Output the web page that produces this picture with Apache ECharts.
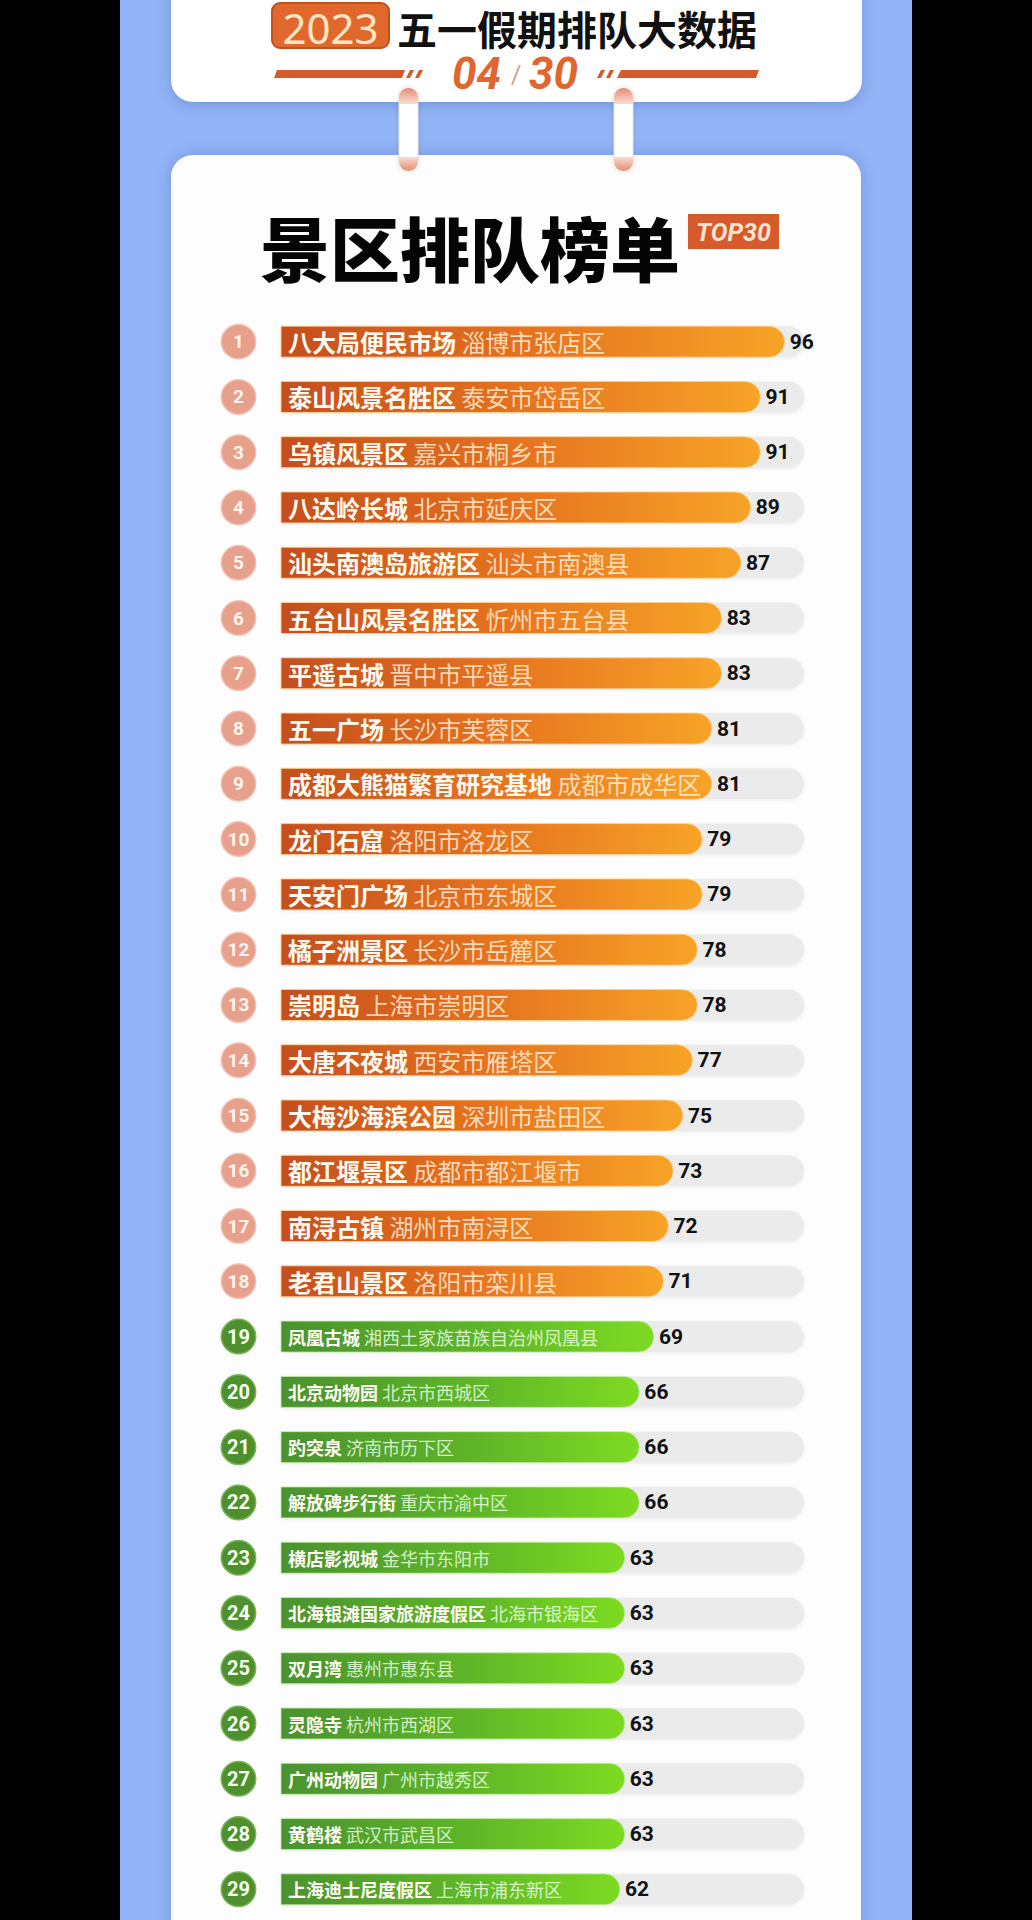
<!DOCTYPE html>
<html>
<head>
<meta charset="utf-8">
<script src="https://cdn.jsdelivr.net/npm/echarts@6/dist/echarts.min.js"></script>
<style>
html,body{margin:0;padding:0;background:#000;}
#c{width:1032px;height:1920px;}
</style>
</head>
<body>
<div id="c"></div>
<script>
const ranks = ['1','2','3','4','5','6','7','8','9','10','11','12','13','14','15','16','17','18','19','20','21','22','23','24','25','26','27','28','29'];
const names = ['八大局便民市场','泰山风景名胜区','乌镇风景区','八达岭长城','汕头南澳岛旅游区','五台山风景名胜区','平遥古城','五一广场','成都大熊猫繁育研究基地','龙门石窟','天安门广场','橘子洲景区','崇明岛','大唐不夜城','大梅沙海滨公园','都江堰景区','南浔古镇','老君山景区','凤凰古城','北京动物园','趵突泉','解放碑步行街','横店影视城','北海银滩国家旅游度假区','双月湾','灵隐寺','广州动物园','黄鹤楼','上海迪士尼度假区'];
const regions = ['淄博市张店区','泰安市岱岳区','嘉兴市桐乡市','北京市延庆区','汕头市南澳县','忻州市五台县','晋中市平遥县','长沙市芙蓉区','成都市成华区','洛阳市洛龙区','北京市东城区','长沙市岳麓区','上海市崇明区','西安市雁塔区','深圳市盐田区','成都市都江堰市','湖州市南浔区','洛阳市栾川县','湘西土家族苗族自治州凤凰县','北京市西城区','济南市历下区','重庆市渝中区','金华市东阳市','北海市银海区','惠州市惠东县','杭州市西湖区','广州市越秀区','武汉市武昌区','上海市浦东新区'];
const values = [96,91,91,89,87,83,83,81,81,79,79,78,78,77,75,73,72,71,69,66,66,66,63,63,63,63,63,63,62];

const AX_MIN = -8, AX_MAX = 100;
const CJK = '"Noto Sans CJK SC", "Noto Sans", sans-serif';

const chart = echarts.init(document.getElementById('c'), null, {renderer: 'svg'});

function lin(x, y, x2, y2, stops) {
  return {type: 'linear', x: x, y: y, x2: x2, y2: y2, colorStops: stops};
}

function renderItem(params, api) {
  const i = params.dataIndex;
  const v = api.value(0);
  const cat = api.value(1);
  const s = api.coord([AX_MIN, cat]);
  const e = api.coord([v, cat]);
  const t = api.coord([AX_MAX, cat]);
  const h = 31, r = h / 2, y = s[1] - h / 2;
  const orange = i < 18;
  const fs = orange ? 24 : 18;
  const grad = orange
    ? lin(0, 0, 1, 0, [{offset: 0, color: '#c44e1d'}, {offset: 0.5, color: '#e6731f'}, {offset: 1, color: '#f7a427'}])
    : lin(0, 0, 1, 0, [{offset: 0, color: '#4a9230'}, {offset: 0.55, color: '#5fb628'}, {offset: 1, color: '#7edb22'}]);
  return {
    type: 'group',
    children: [
      {type: 'rect', shape: {x: s[0], y: y, width: t[0] - s[0], height: h, r: [0, r, r, 0]},
        style: {fill: '#ebebeb', shadowBlur: 3, shadowColor: 'rgba(0,0,0,0.08)', shadowOffsetY: 1}},
      {type: 'rect', shape: {x: s[0], y: y, width: e[0] - s[0], height: h, r: [0, r, r, 0]},
        style: {fill: grad, stroke: orange ? 'rgba(252,212,150,0.9)' : 'rgba(200,240,170,0.8)', lineWidth: 1}},
      {type: 'text', x: s[0] + 7, y: s[1],
        style: {
          text: '{n|' + names[i] + '} {r|' + regions[i] + '}',
          fontSize: fs, fontFamily: CJK, verticalAlign: 'middle', align: 'left',
          rich: {
            n: {fontSize: fs, fontWeight: 'bold', fill: '#fffaf2', fontFamily: CJK},
            r: {fontSize: fs, fontWeight: 'normal', fill: orange ? 'rgba(255,236,212,0.85)' : 'rgba(236,255,224,0.85)', fontFamily: CJK}
          }
        }},
      {type: 'text', x: e[0] + 5, y: s[1],
        style: {text: String(values[i]), fontSize: 21, fontWeight: 'bold', fontFamily: 'Roboto, "Liberation Sans", sans-serif',
          fill: '#111', verticalAlign: 'middle', align: 'left'}}
    ]
  };
}

function ring(x) {
  return [
    {type: 'rect', z: -1, shape: {x: x, y: 88, width: 19, height: 83, r: 9.5},
      style: {fill: '#ffffff', stroke: '#e4e4e4', lineWidth: 1, shadowBlur: 4, shadowColor: 'rgba(0,0,0,0.15)'}},
    {type: 'rect', z: -1, shape: {x: x, y: 88, width: 19, height: 16, r: [9.5, 9.5, 0, 0]},
      style: {fill: lin(0, 0, 0, 1, [{offset: 0, color: '#e58c72'}, {offset: 1, color: '#f8ddd2'}])}},
    {type: 'rect', z: -1, shape: {x: x, y: 157, width: 19, height: 14, r: [0, 0, 9.5, 9.5]},
      style: {fill: lin(0, 0, 0, 1, [{offset: 0, color: '#f8ddd2'}, {offset: 1, color: '#e58c72'}])}}
  ];
}

const graphics = [
  {type: 'rect', z: -3, shape: {x: 120, y: 0, width: 792, height: 1920}, style: {fill: '#92b4f6'}},
  {type: 'rect', z: -2, shape: {x: 171, y: -40, width: 691, height: 142, r: 22},
    style: {fill: '#ffffff', shadowBlur: 14, shadowColor: 'rgba(40,70,160,0.3)', shadowOffsetY: 3}},
  {type: 'rect', z: -2, shape: {x: 171, y: 155, width: 690, height: 1820, r: 22},
    style: {fill: '#fdfdfd', shadowBlur: 14, shadowColor: 'rgba(40,70,160,0.3)'}},
  ...ring(399), ...ring(614),
  // 2023 box
  {type: 'rect', z: -1, shape: {x: 272, y: 3, width: 117, height: 45, r: 8},
    style: {fill: '#e1682c', stroke: '#c4501e', lineWidth: 2}},
  {type: 'text', z: -1, x: 330.5, y: 27,
    style: {text: '2023', fontSize: 42, lineHeight: 42, fontFamily: '"Noto Sans", sans-serif', fill: '#fde6c6', align: 'center', verticalAlign: 'middle'}},
  {type: 'text', z: -1, x: 397, y: 28,
    style: {text: '五一假期排队大数据', fontSize: 40, lineHeight: 40, fontWeight: 'bold', fontFamily: CJK, fill: '#111', align: 'left', verticalAlign: 'middle'}},
  // decorative lines
  {type: 'polygon', z: -1, shape: {points: [[277, 70], [405, 70], [402, 78], [274, 78]]}, style: {fill: '#d55a2c'}},
  {type: 'polygon', z: -1, shape: {points: [[410, 70], [414, 70], [410, 78], [406, 78]]}, style: {fill: '#d55a2c'}},
  {type: 'polygon', z: -1, shape: {points: [[419, 70], [423, 70], [419, 78], [415, 78]]}, style: {fill: '#d55a2c'}},
  {type: 'polygon', z: -1, shape: {points: [[601, 70], [605, 70], [601, 78], [597, 78]]}, style: {fill: '#d55a2c'}},
  {type: 'polygon', z: -1, shape: {points: [[610, 70], [614, 70], [610, 78], [606, 78]]}, style: {fill: '#d55a2c'}},
  {type: 'polygon', z: -1, shape: {points: [[621, 70], [759, 70], [756, 78], [617, 78]]}, style: {fill: '#d55a2c'}},
  {type: 'text', z: -1, x: 501, y: 74,
    style: {text: '04', fontSize: 44, lineHeight: 40, fontWeight: 'bold', fontStyle: 'italic', fontFamily: 'Roboto, sans-serif', fill: '#e0652e', align: 'right', verticalAlign: 'middle'}},
  {type: 'text', z: -1, x: 516, y: 75,
    style: {text: '/', fontSize: 26, lineHeight: 26, fontFamily: 'Roboto, sans-serif', fill: '#c9a898', align: 'center', verticalAlign: 'middle'}},
  {type: 'text', z: -1, x: 529, y: 74,
    style: {text: '30', fontSize: 44, lineHeight: 40, fontWeight: 'bold', fontStyle: 'italic', fontFamily: 'Roboto, sans-serif', fill: '#e0652e', align: 'left', verticalAlign: 'middle'}},
  // main title
  {type: 'text', z: -1, x: 470, y: 246,
    style: {text: '景区排队榜单', fontSize: 70, fontWeight: 900, fontFamily: CJK, fill: '#050505', align: 'center', verticalAlign: 'middle'}},
  {type: 'rect', z: -1, shape: {x: 688, y: 214, width: 91, height: 35}, style: {fill: '#d65a2b'}},
  {type: 'text', z: -1, x: 733.5, y: 232,
    style: {text: 'TOP30', fontSize: 25, fontWeight: 'bold', fontStyle: 'italic', fontFamily: 'Roboto, sans-serif', fill: '#fbe3d3', align: 'center', verticalAlign: 'middle'}}
];

const option = {
  animation: false,
  backgroundColor: '#000',
  graphic: {elements: graphics},
  grid: {left: 281, right: 228, top: 314, height: 1603, outerBoundsMode: 'none', containLabel: false},
  xAxis: {type: 'value', min: AX_MIN, max: AX_MAX, show: false},
  yAxis: {
    type: 'category', data: ranks, inverse: true, z: 4,
    axisLine: {show: false}, axisTick: {show: false}, splitLine: {show: false},
    axisLabel: {
      margin: 26,
      formatter: function (val, idx) { return (idx < 18 ? '{o|' : '{g|') + val + '}'; },
      rich: {
        o: {width: 33, height: 33, lineHeight: 33, borderRadius: 17, backgroundColor: '#e6a08b',
          borderColor: '#f2c3b4', borderWidth: 1.5, color: '#fff4ee', fontSize: 19, fontWeight: 'bold',
          align: 'center', fontFamily: 'Roboto, sans-serif'},
        g: {width: 33, height: 33, lineHeight: 33, borderRadius: 17, backgroundColor: '#4f902e',
          borderColor: '#79b556', borderWidth: 1.5, color: '#f4ffee', fontSize: 20, fontWeight: 'bold',
          align: 'center', fontFamily: 'Roboto, sans-serif'}
      }
    }
  },
  series: [{
    type: 'custom', z: 3, renderItem: renderItem,
    encode: {x: 0, y: 1},
    data: values.map(function (v, i) { return [v, i]; })
  }]
};
chart.setOption(option);
</script>
</body>
</html>
